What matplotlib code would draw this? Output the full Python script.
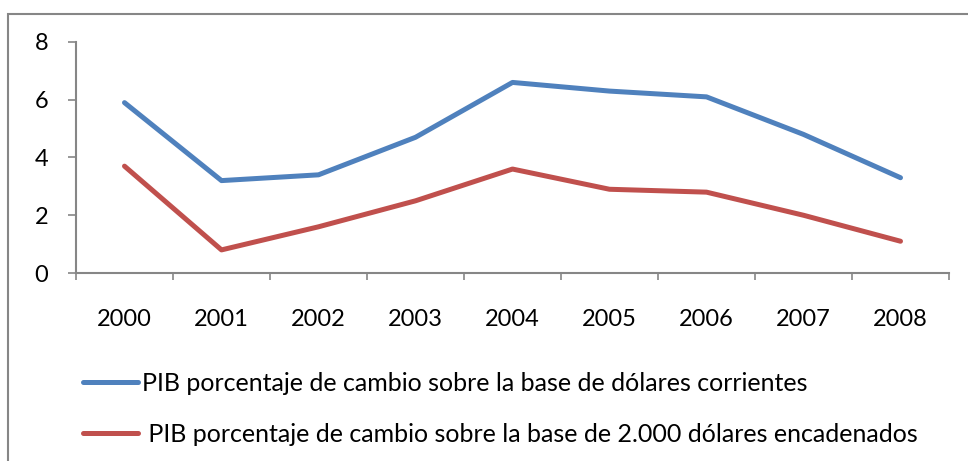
import numpy as np
import matplotlib.pyplot as plt
from matplotlib.lines import Line2D
from matplotlib.patches import Rectangle

# Datos
anios = ['2000', '2001', '2002', '2003', '2004', '2005', '2006', '2007', '2008']
pib_corrientes = [5.9, 3.2, 3.4, 4.7, 6.6, 6.3, 6.1, 4.8, 3.3]
pib_encadenados = [3.7, 0.8, 1.6, 2.5, 3.6, 2.9, 2.8, 2.0, 1.1]
etiquetas = ['PIB porcentaje de cambio sobre la base de dólares corrientes',
             ' PIB porcentaje de cambio sobre la base de 2.000 dólares encadenados']

azul = '#4F81BD'
rojo = '#C0504D'
gris = '#868686'

plt.rcParams['font.family'] = ['Lato', 'DejaVu Sans']

fig = plt.figure(figsize=(9.68, 4.61), dpi=100)
ax = fig.add_axes([76/968, 1-273/461, (949-76)/968, (273-42)/461])

x = np.arange(len(anios))
ax.plot(x, pib_corrientes, color=azul, lw=3.6, solid_capstyle='round', solid_joinstyle='round')
ax.plot(x, pib_encadenados, color=rojo, lw=3.6, solid_capstyle='round', solid_joinstyle='round')

ax.set_xlim(-0.5, len(anios)-0.5)
ax.set_ylim(0, 8)
ax.set_yticks([0, 2, 4, 6, 8])
ax.set_xticks(x)
ax.set_xticklabels(anios)
ax.set_xticks(np.arange(-0.5, len(anios)), minor=True)
ax.tick_params(axis='x', which='major', length=0, pad=26, labelsize=17)
ax.tick_params(axis='x', which='minor', length=5, width=1.2, color=gris)
ax.tick_params(axis='y', length=6, width=1.2, color=gris, pad=14, labelsize=17)

for s in ['top', 'right']:
    ax.spines[s].set_visible(False)
for s in ['left', 'bottom']:
    ax.spines[s].set_color(gris)
    ax.spines[s].set_linewidth(1.5)

# Leyenda
handles = [Line2D([], [], color=azul, lw=3.6, solid_capstyle='round'),
           Line2D([], [], color=rojo, lw=3.6, solid_capstyle='round')]
fig.legend(handles, etiquetas, loc='upper left', bbox_to_anchor=(83/968, 1-372/461),
           frameon=False, fontsize=18, handlelength=2.2, handletextpad=0.16,
           labelspacing=1.1, borderaxespad=0, borderpad=0)

# Borde del grafico
fig.patches.append(Rectangle((8/968, -0.2), 2, 1.2-14/461, transform=fig.transFigure,
                             fill=False, edgecolor=gris, lw=1.5))

plt.savefig('out.png', dpi=100)
